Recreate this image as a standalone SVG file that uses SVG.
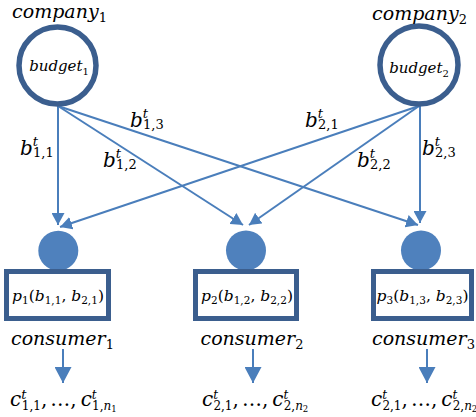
<svg xmlns="http://www.w3.org/2000/svg" width="476" height="417" viewBox="0 0 476 417">
<defs>
<style>
.t{font-family:"DejaVu Serif","Liberation Serif",serif;font-style:italic;fill:#000}
.up{font-style:normal}
.sub,.sup{font-size:13px}
.ring{fill:#fff;stroke:#3B5E8E;stroke-width:5.5}
.dot{fill:#4F81BD}
.box{fill:#fff;stroke:#3B5E8E;stroke-width:5}
.edge{stroke:#4A7EBB;stroke-width:2;fill:none}
</style>
<marker id="ah" markerUnits="userSpaceOnUse" viewBox="0 0 12 13" refX="12" refY="6.5" markerWidth="12" markerHeight="13" orient="auto">
<path d="M0,0 L12,6.5 L0,13 z" fill="#4A7EBB"/>
</marker>
<marker id="ahb" markerUnits="userSpaceOnUse" viewBox="0 0 16 17" refX="16" refY="8.5" markerWidth="16" markerHeight="17" orient="auto">
<path d="M0,0 L16,8.5 L0,17 z" fill="#4A7EBB"/>
</marker>
</defs>
<g id="connectors">
<line class="edge" x1="58" y1="106" x2="58" y2="225" marker-end="url(#ah)"/>
<line class="edge" x1="58" y1="106" x2="243" y2="225" marker-end="url(#ah)"/>
<line class="edge" x1="58" y1="106" x2="418" y2="225" marker-end="url(#ah)"/>
<line class="edge" x1="419" y1="106" x2="60" y2="227" marker-end="url(#ah)"/>
<line class="edge" x1="419" y1="106" x2="249" y2="225" marker-end="url(#ah)"/>
<line class="edge" x1="420" y1="106" x2="420" y2="223" marker-end="url(#ah)"/>
<line class="edge" x1="63" y1="349" x2="63" y2="383" marker-end="url(#ahb)"/>
<line class="edge" x1="253" y1="349" x2="253" y2="383" marker-end="url(#ahb)"/>
<line class="edge" x1="427" y1="349" x2="427" y2="383" marker-end="url(#ahb)"/>
</g>
<g id="edge-labels" class="t" font-size="20">
<text x="20" y="155">b<tspan class="sup" dy="-9">t</tspan><tspan class="sub up" dx="-5" dy="11">1,1</tspan></text>
<text x="130" y="127">b<tspan class="sup" dy="-9">t</tspan><tspan class="sub up" dx="-5" dy="11">1,3</tspan></text>
<text x="103" y="167">b<tspan class="sup" dy="-9">t</tspan><tspan class="sub up" dx="-5" dy="11">1,2</tspan></text>
<text x="305" y="127">b<tspan class="sup" dy="-9">t</tspan><tspan class="sub up" dx="-5" dy="11">2,1</tspan></text>
<text x="357" y="167">b<tspan class="sup" dy="-9">t</tspan><tspan class="sub up" dx="-5" dy="11">2,2</tspan></text>
<text x="422" y="155">b<tspan class="sup" dy="-9">t</tspan><tspan class="sub up" dx="-5" dy="11">2,3</tspan></text>
</g>
<g id="company1">
<circle class="ring" cx="57.5" cy="65.5" r="38.5"/>
<text class="t" x="59.5" y="18" font-size="19" text-anchor="middle">company<tspan class="sub up" dy="4">1</tspan></text>
<text class="t" x="59" y="71" font-size="15" text-anchor="middle">budget<tspan class="up" font-size="10" dy="4">1</tspan></text>
</g>
<g id="company2">
<circle class="ring" cx="419" cy="65" r="39"/>
<text class="t" x="419.5" y="20" font-size="19" text-anchor="middle">company<tspan class="sub up" dy="4">2</tspan></text>
<text class="t" x="419" y="73" font-size="15" text-anchor="middle">budget<tspan class="up" font-size="10" dy="4">2</tspan></text>
</g>
<g id="consumer1">
<circle class="dot" cx="58.3" cy="250.7" r="20"/>
<rect class="box" x="6.5" y="271.5" width="102" height="47"/>
<text class="t" x="58" y="301" font-size="15.5" text-anchor="middle">p<tspan class="up" font-size="10.5" dy="3">1</tspan><tspan class="up" dy="-3">(</tspan>b<tspan class="up" font-size="10.5" dy="3">1,1</tspan><tspan class="up" dy="-3">, </tspan>b<tspan class="up" font-size="10.5" dy="3">2,1</tspan><tspan class="up" dy="-3">)</tspan></text>
<text class="t" x="62.5" y="345" font-size="19" text-anchor="middle">consumer<tspan class="sub up" dy="4">1</tspan></text>
<text class="t" x="10" y="406" font-size="20">c<tspan class="sup" font-size="12" dy="-7">t</tspan><tspan class="up" font-size="12" dx="-4.6" dy="11">1,1</tspan><tspan class="up" dy="-4">,</tspan><tspan class="up" dx="3">…</tspan><tspan class="up">,</tspan><tspan dx="4">c</tspan><tspan font-size="12" dy="-7">t</tspan><tspan class="up" font-size="12" dx="-4.6" dy="11">1,</tspan><tspan font-size="12">n</tspan><tspan class="up" font-size="8.5" dy="2">1</tspan></text>
</g>
<g id="consumer2">
<circle class="dot" cx="246" cy="250.5" r="20"/>
<rect class="box" x="195.5" y="271.5" width="101" height="47"/>
<text class="t" x="247" y="301" font-size="15.5" text-anchor="middle">p<tspan class="up" font-size="10.5" dy="3">2</tspan><tspan class="up" dy="-3">(</tspan>b<tspan class="up" font-size="10.5" dy="3">1,2</tspan><tspan class="up" dy="-3">, </tspan>b<tspan class="up" font-size="10.5" dy="3">2,2</tspan><tspan class="up" dy="-3">)</tspan></text>
<text class="t" x="252" y="345" font-size="19" text-anchor="middle">consumer<tspan class="sub up" dy="4">2</tspan></text>
<text class="t" x="202" y="406" font-size="20">c<tspan font-size="12" dy="-7">t</tspan><tspan class="up" font-size="12" dx="-4.6" dy="11">2,1</tspan><tspan class="up" dy="-4">,</tspan><tspan class="up" dx="3">…</tspan><tspan class="up">,</tspan><tspan dx="4">c</tspan><tspan font-size="12" dy="-7">t</tspan><tspan class="up" font-size="12" dx="-4.6" dy="11">2,</tspan><tspan font-size="12">n</tspan><tspan class="up" font-size="8.5" dy="2">2</tspan></text>
</g>
<g id="consumer3">
<circle class="dot" cx="421" cy="250.5" r="20"/>
<rect class="box" x="373.5" y="271.5" width="98" height="47"/>
<text class="t" x="422.5" y="301" font-size="15.5" text-anchor="middle">p<tspan class="up" font-size="10.5" dy="3">3</tspan><tspan class="up" dy="-3">(</tspan>b<tspan class="up" font-size="10.5" dy="3">1,3</tspan><tspan class="up" dy="-3">, </tspan>b<tspan class="up" font-size="10.5" dy="3">2,3</tspan><tspan class="up" dy="-3">)</tspan></text>
<text class="t" x="372" y="345" font-size="19">consumer<tspan class="sub up" dy="4">3</tspan></text>
<text class="t" x="371" y="406" font-size="20">c<tspan font-size="12" dy="-7">t</tspan><tspan class="up" font-size="12" dx="-4.6" dy="11">2,1</tspan><tspan class="up" dy="-4">,</tspan><tspan class="up" dx="3">…</tspan><tspan class="up">,</tspan><tspan dx="4">c</tspan><tspan font-size="12" dy="-7">t</tspan><tspan class="up" font-size="12" dx="-4.6" dy="11">2,</tspan><tspan font-size="12">n</tspan><tspan class="up" font-size="8.5" dy="2">2</tspan></text>
</g>
</svg>
